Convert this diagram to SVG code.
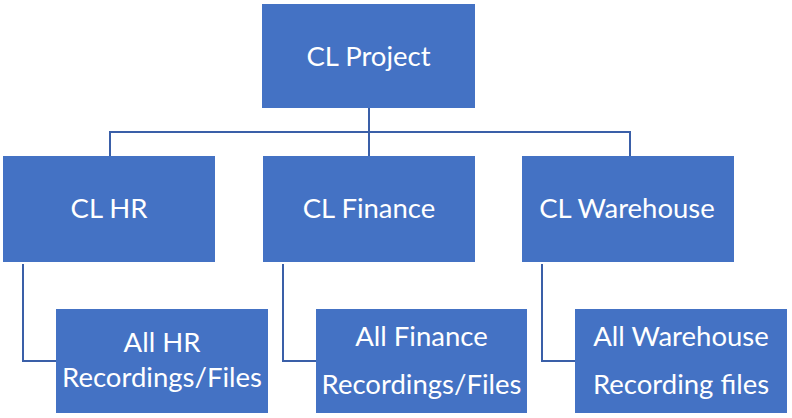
<svg xmlns="http://www.w3.org/2000/svg" width="792" height="418" viewBox="0 0 792 418">
<style>
.box{fill:#4472C4;}
.t{font-family:Lato,"Liberation Sans",sans-serif;font-size:27.5px;fill:#fff;text-anchor:middle;}
.c{fill:none;stroke:#3A5FA8;stroke-width:2;}
</style>
<rect width="792" height="418" fill="#fff"/>
<g id="connectors">
<path class="c" d="M369 108V132M110 156V132H630V156M369 132V156"/>
<path class="c" d="M23 264V361H56"/>
<path class="c" d="M283 264V361H316"/>
<path class="c" d="M542 264V361H575"/>
</g>
<g id="project"><rect class="box" x="262" y="4" width="213" height="104"/><text class="t" x="368.5" y="66">CL Project</text></g>
<g id="hr"><rect class="box" x="3" y="156" width="212" height="106"/><text class="t" x="109" y="218">CL HR</text></g>
<g id="finance"><rect class="box" x="263" y="156" width="212" height="106"/><text class="t" x="369" y="218">CL Finance</text></g>
<g id="warehouse"><rect class="box" x="522" y="156" width="212" height="106"/><text class="t" x="627" y="218">CL Warehouse</text></g>
<g id="hr-files"><rect class="box" x="56" y="309" width="212" height="104"/><text class="t" x="162" y="352">All HR</text><text class="t" x="162" y="387">Recordings/Files</text></g>
<g id="finance-files"><rect class="box" x="316" y="309" width="211" height="104"/><text class="t" x="421.5" y="346">All Finance</text><text class="t" x="421.5" y="394">Recordings/Files</text></g>
<g id="warehouse-files"><rect class="box" x="575" y="309" width="212" height="104"/><text class="t" x="681" y="346">All Warehouse</text><text class="t" x="681" y="394">Recording files</text></g>
</svg>
